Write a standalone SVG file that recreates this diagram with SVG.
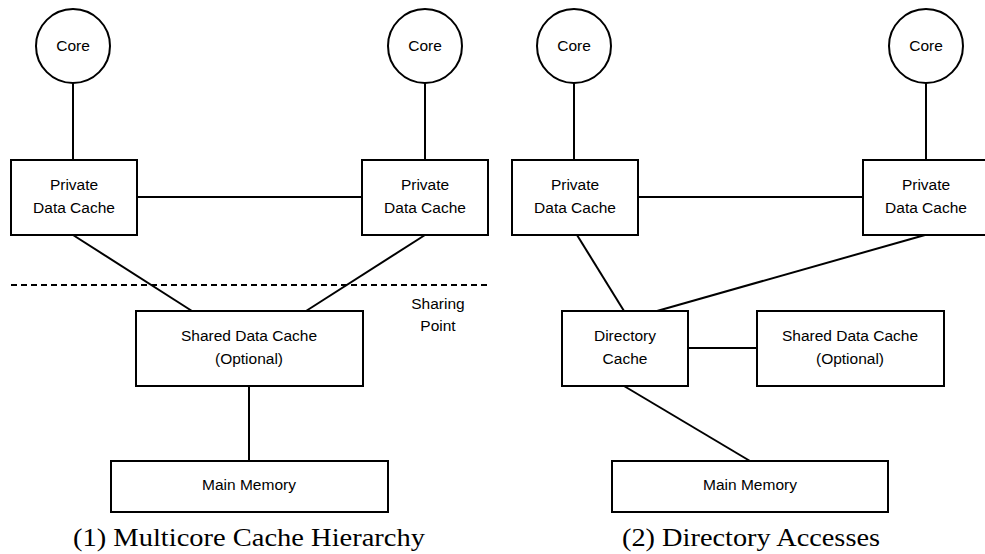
<svg xmlns="http://www.w3.org/2000/svg" width="985" height="554" viewBox="0 0 985 554">
  <style>
    .node { fill: #fff; stroke: #000; stroke-width: 2; }
    .edge { stroke: #000; stroke-width: 2; fill: none; }
    .dash { stroke: #000; stroke-width: 2; stroke-dasharray: 6 4; fill: none; }
    .lbl { font-family: "Liberation Sans", Arial, sans-serif; font-size: 15.5px; fill: #000; text-anchor: middle; dominant-baseline: central; }
    .cap { font-family: "Liberation Serif", "Times New Roman", serif; font-size: 25px; fill: #000; text-anchor: middle; }
  </style>
  <rect width="985" height="554" fill="#fff"/>

  <!-- connectors -->
  <g id="connectors">
    <!-- panel 1 -->
    <line class="edge" x1="73" y1="83" x2="73" y2="160"/>
    <line class="edge" x1="425" y1="83" x2="425" y2="160"/>
    <line class="edge" x1="137" y1="197" x2="362" y2="197"/>
    <line class="edge" x1="73" y1="235" x2="192" y2="311"/>
    <line class="edge" x1="425" y1="235" x2="306" y2="311"/>
    <line class="edge" x1="249" y1="386" x2="249" y2="461"/>
    <line class="dash" x1="11" y1="285" x2="489" y2="285"/>
    <!-- panel 2 -->
    <line class="edge" x1="574" y1="83" x2="574" y2="160"/>
    <line class="edge" x1="926" y1="83" x2="926" y2="160"/>
    <line class="edge" x1="638" y1="197" x2="863" y2="197"/>
    <line class="edge" x1="577" y1="235" x2="624" y2="311"/>
    <line class="edge" x1="925" y1="235" x2="657" y2="311"/>
    <line class="edge" x1="688" y1="348" x2="757" y2="348"/>
    <line class="edge" x1="624" y1="386" x2="750" y2="461"/>
  </g>

  <!-- panel 1 nodes -->
  <g id="core-1a">
    <circle class="node" cx="73" cy="46" r="37"/>
    <text class="lbl" x="73" y="45">Core</text>
  </g>
  <g id="core-1b">
    <circle class="node" cx="425" cy="46" r="37"/>
    <text class="lbl" x="425" y="45">Core</text>
  </g>
  <g id="private-1a">
    <rect class="node" x="11" y="160" width="126" height="75"/>
    <text class="lbl" x="74" y="184">Private</text>
    <text class="lbl" x="74" y="207">Data Cache</text>
  </g>
  <g id="private-1b">
    <rect class="node" x="362" y="160" width="126" height="75"/>
    <text class="lbl" x="425" y="184">Private</text>
    <text class="lbl" x="425" y="207">Data Cache</text>
  </g>
  <g id="sharing-point">
    <text class="lbl" x="438" y="303">Sharing</text>
    <text class="lbl" x="438" y="325">Point</text>
  </g>
  <g id="shared-1">
    <rect class="node" x="136" y="311" width="227" height="75"/>
    <text class="lbl" x="249" y="335">Shared Data Cache</text>
    <text class="lbl" x="249" y="358">(Optional)</text>
  </g>
  <g id="memory-1">
    <rect class="node" x="111" y="461" width="277" height="51"/>
    <text class="lbl" x="249" y="484">Main Memory</text>
  </g>
  <text class="cap" x="249" y="546" textLength="352" lengthAdjust="spacingAndGlyphs">(1) Multicore Cache Hierarchy</text>

  <!-- panel 2 nodes -->
  <g id="core-2a">
    <circle class="node" cx="574" cy="46" r="37"/>
    <text class="lbl" x="574" y="45">Core</text>
  </g>
  <g id="core-2b">
    <circle class="node" cx="926" cy="46" r="37"/>
    <text class="lbl" x="926" y="45">Core</text>
  </g>
  <g id="private-2a">
    <rect class="node" x="512" y="160" width="126" height="75"/>
    <text class="lbl" x="575" y="184">Private</text>
    <text class="lbl" x="575" y="207">Data Cache</text>
  </g>
  <g id="private-2b">
    <rect class="node" x="863" y="160" width="126" height="75"/>
    <text class="lbl" x="926" y="184">Private</text>
    <text class="lbl" x="926" y="207">Data Cache</text>
  </g>
  <g id="directory">
    <rect class="node" x="562" y="311" width="126" height="75"/>
    <text class="lbl" x="625" y="335">Directory</text>
    <text class="lbl" x="625" y="358">Cache</text>
  </g>
  <g id="shared-2">
    <rect class="node" x="757" y="311" width="187" height="75"/>
    <text class="lbl" x="850" y="335">Shared Data Cache</text>
    <text class="lbl" x="850" y="358">(Optional)</text>
  </g>
  <g id="memory-2">
    <rect class="node" x="612" y="461" width="276" height="51"/>
    <text class="lbl" x="750" y="484">Main Memory</text>
  </g>
  <text class="cap" x="751" y="546" textLength="258" lengthAdjust="spacingAndGlyphs">(2) Directory Accesses</text>
</svg>
